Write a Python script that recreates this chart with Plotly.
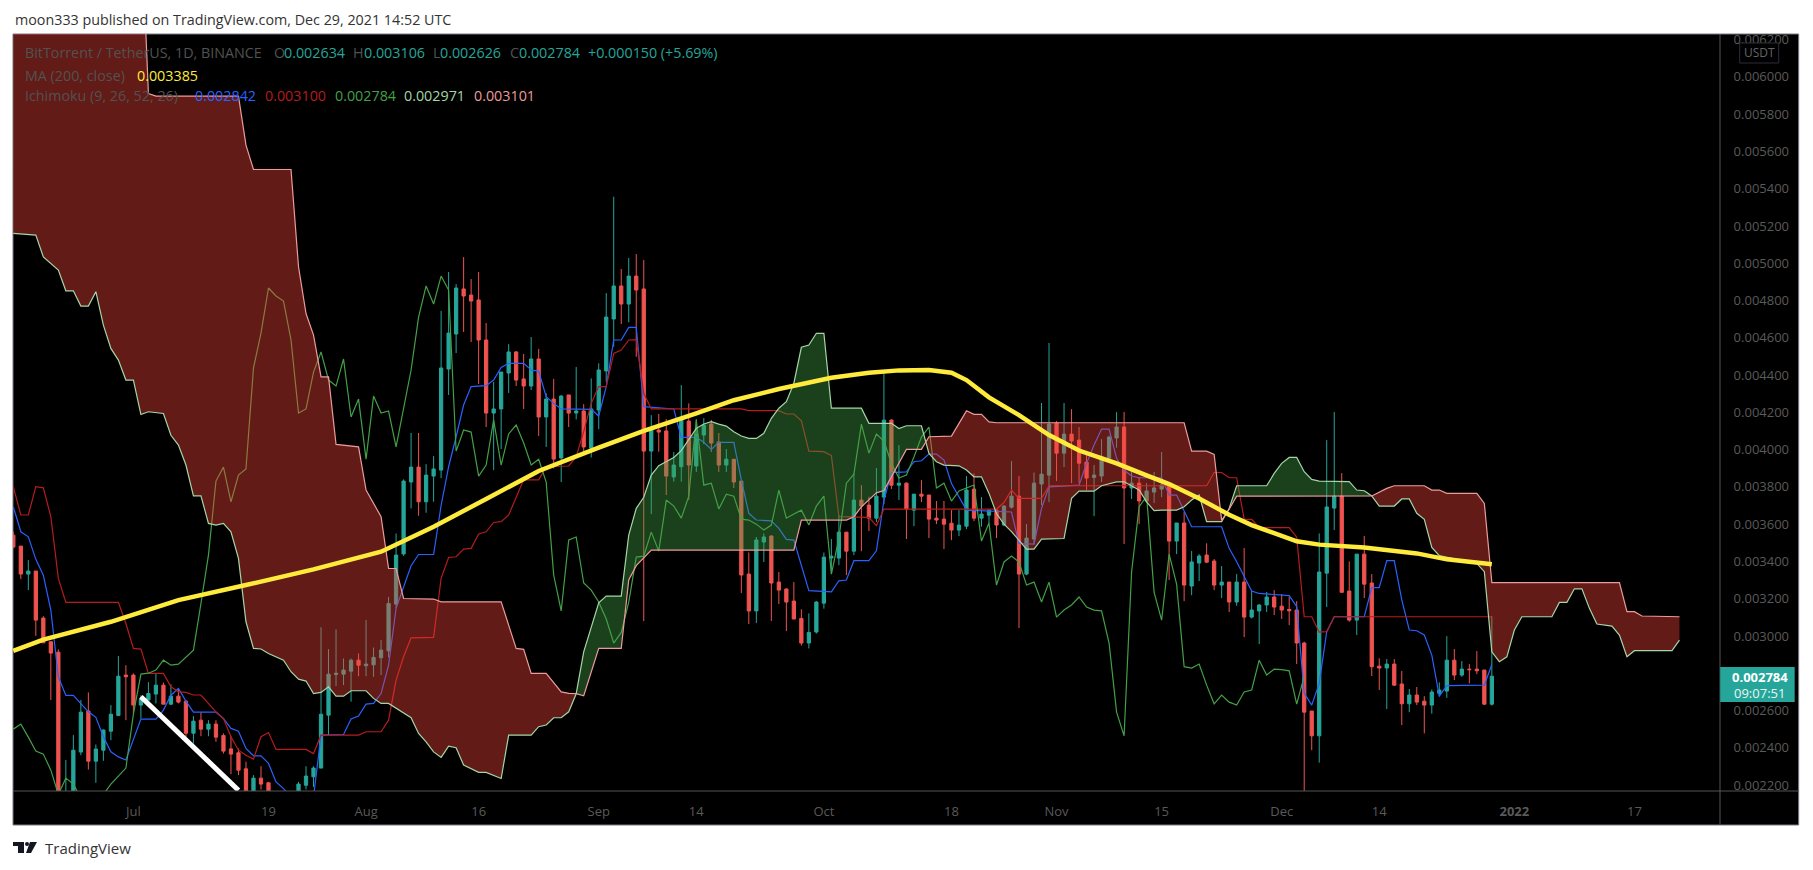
import numpy as np
import pandas as pd
import plotly.graph_objects as go

# All prices are in micro-USDT (0.002784 -> 2784); one row per day from 15 Jun 2021
START = "2021-06-15"
open_ = [3541,3482,3332,3348,3096,2969,2913,2050,2110,2377,2597,2328,2387,2489,2573,2790,2790,2629,2656,2688,2736,2634,2677,2650,2478,2548,2500,2527,2466,2394,2373,2287,2150,2237,2212,2130,2110,2120,2150,2199,2244,2291,2575,2793,2795,2811,2870,2840,2845,2883,2920,3171,3440,3826,3906,3720,3858,3890,4432,4620,4862,4829,4803,4588,4196,4218,4411,4524,4379,4341,4486,4175,4271,3955,4293,4196,4207,4007,4212,4422,4701,4878,4781,4931,4862,3992,4105,4100,3853,3908,4153,3912,4078,4137,4041,3917,3948,3831,3332,3134,3504,3536,3289,3252,3187,3094,2962,3021,3176,3418,3418,3557,3455,3729,3702,3632,3745,4158,3809,3820,3675,3761,3756,3632,3627,3605,3568,3589,3788,3632,3648,3675,3595,3691,3750,3332,3520,3815,3863,4142,3981,4083,4051,3933,3851,3858,3954,4062,4121,3794,3820,3724,3772,3788,3810,3509,3606,3268,3391,3434,3402,3273,3289,3182,3289,3101,3134,3166,3209,3160,3142,3139,2962,2597,2464,3337,3686,3751,3241,3085,3439,3284,2838,2828,2849,2742,2636,2683,2650,2629,2692,2704,2870,2790,2822,2822,2817,2634]
high_ = [3560,3482,3407,3348,3106,2969,2928,2334,2468,2656,2697,2418,2498,2629,2892,2843,2799,2682,2752,2799,2750,2741,2718,2656,2570,2591,2548,2548,2477,2462,2396,2325,2253,2301,2217,2160,2155,2160,2217,2301,2301,3047,2929,3035,2879,2879,2906,3085,2938,2978,3210,3550,3840,4089,4089,3922,3965,4744,4953,4888,5033,4915,4953,4679,4363,4416,4566,4529,4513,4604,4540,4302,4379,4293,4293,4443,4244,4382,4463,4840,5357,4969,5028,5049,5017,4185,4191,4164,3987,4346,4248,4164,4169,4159,4089,4003,3948,3837,3448,3531,3550,3541,3343,3255,3289,3143,3121,3187,3448,3520,3648,3557,3872,3809,3747,3901,4427,4164,4024,3824,3761,3836,3756,3724,3724,3675,3675,3858,3872,3745,3680,3680,3702,3938,3858,3600,3877,4250,4572,4153,4250,4217,4121,3976,3917,4056,4075,4201,4202,3890,3853,3820,3880,3987,3810,3606,3665,3456,3439,3497,3413,3375,3289,3332,3472,3246,3171,3236,3246,3225,3210,3187,2969,2597,3550,4051,4202,3874,3400,3439,3536,3332,2880,2876,2876,2812,2715,2726,2677,2713,2751,2999,2930,2865,2849,2919,2817,3106]
low_ = [3470,3305,3246,3000,2963,2656,2100,2030,2090,2360,2283,2212,2330,2441,2570,2548,2584,2557,2656,2638,2634,2629,2638,2455,2423,2462,2462,2432,2369,2258,2253,2140,2130,2176,2120,2090,2100,2110,2120,2176,2190,2291,2468,2731,2736,2647,2784,2784,2781,2790,2885,3148,3430,3684,3645,3661,3720,3847,4293,4518,4631,4577,4352,4121,3890,4003,4304,4341,4218,4320,4073,4014,3899,3826,4121,4162,3989,3958,4110,4364,4552,4674,4683,4498,3080,3654,3989,3756,3828,3828,3729,3880,4030,3987,3880,3880,3794,3230,3064,3069,3397,3080,3171,3026,3091,2948,2933,3013,3146,3335,3380,3326,3434,3455,3563,3611,3707,3788,3729,3520,3589,3718,3525,3600,3466,3514,3536,3573,3616,3586,3604,3525,3589,3684,3042,3326,3493,3702,3718,3831,3906,3820,3820,3783,3643,3826,3935,4010,3493,3735,3600,3724,3713,3745,3300,3439,3187,3219,3295,3393,3246,3203,3128,3162,2994,3094,2956,3128,3112,3091,3058,2849,2100,2387,2320,3155,3568,3234,3076,3005,3203,2785,2710,2608,2731,2522,2591,2629,2477,2583,2674,2668,2763,2781,2745,2795,2629,2626]
close_ = [3477,3332,3348,3085,2963,2908,2120,2110,2387,2591,2328,2393,2495,2580,2784,2781,2629,2661,2691,2736,2634,2677,2645,2478,2543,2500,2527,2457,2382,2366,2280,2150,2237,2205,2130,2110,2120,2150,2205,2248,2291,2580,2795,2800,2817,2870,2843,2849,2885,2924,3174,3434,3831,3906,3720,3863,3896,4438,4625,4867,4824,4797,4588,4196,4218,4416,4524,4373,4341,4486,4175,4271,3949,4287,4196,4207,4014,4218,4427,4711,4878,4781,4931,4856,3992,4105,4094,3858,3917,4159,3917,4084,4132,4035,3917,3948,3826,3327,3134,3515,3531,3284,3246,3182,3091,2962,3019,3182,3423,3428,3557,3455,3729,3697,3632,3750,4158,3809,3820,3681,3761,3750,3627,3622,3600,3568,3595,3783,3632,3654,3675,3595,3697,3750,3332,3525,3820,3868,4137,3981,4083,4046,3927,3847,3863,3960,4067,4121,3794,3820,3724,3778,3794,3810,3509,3606,3273,3397,3429,3396,3273,3289,3182,3289,3101,3139,3166,3209,3155,3139,3135,2962,2591,2464,3343,3692,3751,3234,3085,3439,3278,2835,2828,2849,2736,2636,2683,2645,2629,2699,2710,2870,2790,2822,2819,2813,2634,2784]

# Indicator lines: day index since START, and value read at that day
ma_days = [0,4,13,22,31,40,49,56,63,70,78,84,91,96,102,105,109,114,118,122,125,127,130,134,138,142,147,151,154,158,162,165,167,171,174,180,187,191,197]
ma_vals = [2920,2980,3076,3192,3273,3357,3452,3586,3735,3885,4010,4100,4194,4265,4325,4352,4385,4412,4425,4427,4412,4373,4280,4185,4078,3995,3926,3862,3815,3738,3650,3595,3565,3508,3490,3475,3443,3411,3385]

tenkan_days = [0,1,2,3,4,5,6,7,8,9,10,11,12,13,14,15,16,17,19,20,21,22,23,24,27,28,29,30,31,32,33,34,35,36,37,40,41,44,45,46,47,48,49,50,51,52,53,54,56,57,58,59,60,61,63,64,65,66,68,69,70,71,72,73,77,78,79,80,81,82,83,84,88,89,91,92,93,94,96,97,98,99,101,102,103,104,106,109,110,111,112,114,115,116,117,119,120,121,122,123,124,125,126,127,133,134,136,137,138,142,143,144,145,146,147,148,149,150,153,154,155,156,157,161,162,163,164,165,166,170,171,172,173,174,175,176,180,181,182,183,184,185,186,187,188,189,190,191,196,197]
tenkan_vals = [3693,3559,3532,3411,3326,3139,2781,2681,2681,2638,2593,2563,2459,2378,2351,2334,2450,2554,2554,2602,2682,2718,2650,2591,2591,2557,2504,2489,2396,2357,2357,2316,2217,2181,2137,2137,2468,2471,2554,2570,2634,2638,2691,2843,3148,3264,3377,3437,3437,3700,3908,4069,4239,4338,4343,4373,4441,4463,4463,4427,4421,4284,4248,4218,4216,4180,4338,4588,4588,4656,4656,4230,4218,4066,4066,4039,4001,4039,4039,3837,3658,3622,3618,3577,3518,3514,3243,3237,3296,3300,3404,3404,3457,3729,3876,3880,3935,3940,3976,3976,3944,3818,3747,3675,3665,3496,3493,3684,3800,3809,3926,4024,4110,4110,3953,3890,3858,3849,3849,3756,3756,3675,3586,3586,3470,3398,3317,3241,3228,3216,3157,2692,2629,2745,3023,3103,3103,3259,3259,3404,3404,3193,3032,3028,3005,2897,2677,2733,2736,2847]

kijun_days = [0,1,2,3,4,5,6,7,14,15,16,17,18,20,21,22,23,24,25,26,27,28,29,30,31,32,33,34,35,39,40,41,46,47,49,50,51,52,53,56,57,58,59,60,61,62,63,64,65,66,67,68,70,71,74,75,76,77,78,79,80,81,82,83,84,85,97,98,102,103,104,105,106,108,109,110,114,115,116,131,132,133,134,137,138,159,160,161,162,163,164,165,166,170,171,172,173,174,175,176,197]
kijun_vals = [3801,3649,3649,3801,3795,3640,3309,3180,3180,3067,2933,2929,2799,2799,2727,2700,2697,2683,2683,2638,2593,2557,2459,2387,2360,2339,2459,2482,2391,2391,2369,2468,2468,2486,2486,2548,2763,2888,2990,2992,3309,3421,3425,3466,3470,3547,3559,3609,3613,3649,3745,3838,3838,3908,3912,3962,4096,4248,4338,4338,4516,4534,4588,4590,4302,4218,4218,4209,4209,4191,4191,4155,3992,3989,3968,3640,3636,3592,3681,3681,3716,3783,3738,3738,3806,3806,3877,3877,3849,3849,3625,3625,3582,3581,3530,3103,3103,3020,3023,3103,3103]

span_a_days = [0,3,4,6,7,8,9,10,11,12,13,14,15,16,17,18,20,21,22,23,24,25,26,27,28,29,30,31,32,33,34,36,37,38,39,40,41,42,43,44,45,47,48,49,50,51,53,54,55,56,57,58,59,60,61,62,63,65,66,69,70,71,72,73,74,75,76,77,78,79,81,82,83,84,85,86,88,89,90,91,92,93,94,95,96,97,98,99,100,101,102,103,104,105,106,107,108,109,113,114,117,118,119,121,122,123,124,126,127,128,129,130,131,132,133,134,135,136,137,140,141,142,144,145,147,148,149,150,151,152,153,155,156,157,158,159,161,162,163,167,168,169,170,171,172,173,174,178,179,180,181,182,184,185,186,187,188,189,190,191,195,196,197,198,199,200,201,205,206,207,208,209,210,211,212,213,214,215,216,221,222]
span_a_vals = [5160,5151,5034,4963,4852,4852,4770,4770,4847,4668,4543,4480,4373,4373,4188,4203,4194,4077,4024,3917,3752,3752,3604,3595,3604,3559,3416,3076,2933,2930,2906,2870,2808,2768,2758,2691,2697,2727,2677,2677,2706,2706,2665,2638,2638,2611,2561,2477,2432,2378,2348,2409,2400,2307,2289,2268,2268,2235,2468,2468,2513,2522,2561,2561,2593,2690,2915,3050,3178,3214,3214,3541,3685,3744,3863,3914,3958,3994,4051,4114,4137,4150,4137,4126,4096,4073,4060,4060,4087,4168,4222,4257,4356,4549,4561,4624,4624,4222,4222,4141,4141,4113,4128,4128,3979,3935,3917,3913,3890,3854,3854,3765,3657,3600,3560,3510,3466,3466,3520,3523,3738,3777,3777,3806,3827,3827,3806,3783,3720,3672,3675,3675,3693,3729,3756,3613,3613,3684,3806,3806,3872,3926,3958,3958,3881,3840,3831,3828,3783,3779,3751,3697,3697,3735,3735,3658,3626,3475,3431,3422,3389,3345,2915,2862,2888,3032,3103,3103,3180,3180,3253,3253,3148,3064,3060,3053,3005,2888,2921,2921,2978]

span_b_days = [0,17,18,19,30,31,32,37,38,39,40,41,42,43,46,47,49,50,51,52,56,57,65,67,68,69,71,73,74,75,76,78,81,82,83,85,104,105,111,112,113,115,116,117,119,121,122,125,126,127,128,129,130,131,156,157,159,160,161,162,163,181,183,184,188,189,190,191,195,196,197,214,215,216,217,222]
span_b_vals = [6870,6870,5910,5897,5897,5634,5503,5503,4981,4730,4614,4390,4390,4028,4015,3783,3640,3362,3362,3201,3198,3183,3183,2933,2928,2799,2799,2700,2692,2690,2679,2933,2933,3300,3377,3461,3461,3622,3622,3640,3693,3768,3780,3854,4001,4001,4069,4072,4140,4208,4189,4189,4149,4144,4144,3992,3992,3974,3620,3680,3750,3751,3792,3806,3806,3783,3783,3765,3765,3711,3286,3286,3130,3130,3107,3103]

CHIKOU_SHIFT = 25
trend_days = [17, 30]
trend_vals = [2674, 2172]
cloud_edges = [0, 75, 121.6, 161.9, 181, 222]
cloud_kinds = ["bear", "bull", "bear", "bull", "bear"]

price_ticks = [2200,2400,2600,3000,3200,3400,3600,3800,4000,4200,4400,4600,4800,5000,5200,5400,5600,5800,6000,6200]
x_ticks = ["2021-07-01","2021-07-19","2021-08-01","2021-08-16","2021-09-01","2021-09-14","2021-10-01","2021-10-18","2021-11-01","2021-11-15","2021-12-01","2021-12-14","2022-01-01","2022-01-17"]
x_tick_text = ["Jul","19","Aug","16","Sep","14","Oct","18","Nov","15","Dec","14","<b>2022</b>","17"]

UP, DOWN = "#26A69A", "#EF5350"
BLUE, DKRED, GREEN, PALEG, PALER = "#2962FF", "#B71C1C", "#43A047", "#A5D6A7", "#EF9A9A"
YELLOW = "#FFEB3B"
FILL = {"bear": "rgba(244,67,54,0.4)", "bull": "rgba(67,160,71,0.4)"}
FONT = "Open Sans"

t0 = pd.Timestamp(START)
def dates(days):
    return [t0 + pd.Timedelta(days=float(d)) for d in days]
def px_(vals):
    return np.asarray(vals, dtype=float) / 1e6

fig = go.Figure()
def line(days, vals, color, width, name):
    fig.add_trace(go.Scatter(x=dates(days), y=px_(vals), mode="lines", name=name,
                             line=dict(color=color, width=width), hoverinfo="skip"))

line(tenkan_days, tenkan_vals, BLUE, 1.2, "Conversion")
line(kijun_days, kijun_vals, DKRED, 1.2, "Base")
line(list(range(len(close_) - CHIKOU_SHIFT)), close_[CHIKOU_SHIFT:], GREEN, 1.2, "Lagging")

a_d, a_v, b_d, b_v = map(np.asarray, (span_a_days, span_a_vals, span_b_days, span_b_vals))
for lo, hi, kind in zip(cloud_edges[:-1], cloud_edges[1:], cloud_kinds):
    da = np.r_[lo, a_d[(a_d > lo) & (a_d < hi)], hi]
    db = np.r_[lo, b_d[(b_d > lo) & (b_d < hi)], hi]
    xs = np.r_[da, db[::-1]]
    ys = np.r_[np.interp(da, a_d, a_v), np.interp(db[::-1], b_d, b_v)]
    fig.add_trace(go.Scatter(x=dates(xs), y=px_(ys), mode="lines", fill="toself",
                             fillcolor=FILL[kind], line=dict(width=0), hoverinfo="skip"))
line(span_a_days, span_a_vals, PALEG, 1.2, "Span A")
line(span_b_days, span_b_vals, PALER, 1.2, "Span B")
line(ma_days, ma_vals, YELLOW, 4.5, "MA 200")

fig.add_trace(go.Candlestick(
    x=dates(range(len(close_))), open=px_(open_), high=px_(high_), low=px_(low_), close=px_(close_),
    whiskerwidth=0,
    increasing=dict(line=dict(color=UP, width=1), fillcolor=UP),
    decreasing=dict(line=dict(color=DOWN, width=1), fillcolor=DOWN),
    hoverinfo="skip"))
line(trend_days, trend_vals, "#FFFFFF", 5, "Trend")

# pixel helpers for the furniture around the plot
L, R, T, B = 13, 1720.3, 34, 791
def ax(p): return (p - L) / (R - L)
def ay(p): return 1 - (p - T) / (B - T)
def note(x, y, text, color, size=14.3, anchor="left", **kw):
    fig.add_annotation(xref="paper", yref="paper", x=ax(x), y=ay(y), text=text, showarrow=False,
                       xanchor=anchor, yanchor="middle", align="left",
                       font=dict(color=color, size=size, family=FONT), **kw)
def rect(x0, y0, x1, y1, fill=None, line_color=None, layer="above"):
    fig.add_shape(type="rect", xref="paper", yref="paper", x0=ax(x0), x1=ax(x1), y0=ay(y0), y1=ay(y1),
                  fillcolor=fill, line=dict(color=line_color, width=1) if line_color else dict(width=0), layer=layer)
def path(points, fill):
    d = "M " + " L ".join(f"{ax(x)},{ay(y)}" for x, y in points) + " Z"
    fig.add_shape(type="path", xref="paper", yref="paper", path=d, fillcolor=fill, line=dict(width=0), layer="above")

rect(13, 34, 1799, 825, fill="#000000", line_color="#787B86", layer="below")
fig.add_shape(type="line", xref="paper", yref="paper", x0=ax(13), x1=ax(1799), y0=ay(791), y1=ay(791), line=dict(color="#555555", width=1))
fig.add_shape(type="line", xref="paper", yref="paper", x0=ax(1720.3), x1=ax(1720.3), y0=ay(34), y1=ay(825), line=dict(color="#555555", width=1))

# USDT badge and last-price tag
rect(1740, 43, 1779, 63, fill="#000000", line_color="#2A2E39")
note(1759.5, 53, "USDT", "#666666", size=12, anchor="center")
rect(1720.5, 667, 1795, 702, fill=UP)
note(1760, 677, "<b>0.002784</b>", "#FFFFFF", size=13, anchor="center")
note(1760, 693, "09:07:51", "#E8F5F3", size=13, anchor="center")

# header, legend lines, footer
note(13, 19, "moon333 published on TradingView.com, Dec 29, 2021 14:52 UTC", "#333333")
DIM = "#525252"
for x, text, color in [(23, "BitTorrent / TetherUS, 1D, BINANCE", DIM), (272, "O", DIM), (282, "0.002634", UP),
                       (351, "H", DIM), (361.6, "0.003106", UP), (431, "L", DIM), (438, "0.002626", UP),
                       (508, "C", DIM), (517, "0.002784", UP), (586.6, "+0.000150 (+5.69%)", UP)]:
    note(x, 53, text, color)
note(23, 75, "MA (200, close)", DIM)
note(135, 75, "0.003385", YELLOW)
note(23, 96, "Ichimoku (9, 26, 52, 26)", DIM)
for x, text, color in [(193, "0.002842", BLUE), (263, "0.003100", DKRED), (332.6, "0.002784", GREEN),
                       (402, "0.002971", PALEG), (472, "0.003101", PALER)]:
    note(x, 96, text, color)
note(43, 848, "TradingView", "#333333", size=15)
path([(13, 842), (24, 842), (24, 853), (18, 853), (18, 846), (13, 846)], "#131722")
path([(30, 842), (37, 842), (31, 853), (26, 853)], "#131722")
fig.add_shape(type="circle", xref="paper", yref="paper", x0=ax(25), x1=ax(29), y0=ay(842), y1=ay(846),
              fillcolor="#131722", line=dict(width=0), layer="above")

fig.update_layout(
    width=1813, height=870, autosize=False, showlegend=False,
    margin=dict(l=L, r=1813 - R, t=T, b=870 - B),
    paper_bgcolor="#FFFFFF", plot_bgcolor="#000000", boxgap=0.38,
    xaxis=dict(type="date", range=[t0 - pd.Timedelta(hours=1), t0 + pd.Timedelta(days=227.4)],
               rangeslider=dict(visible=False), showgrid=False, zeroline=False, showline=False,
               tickmode="array", tickvals=x_ticks, ticktext=x_tick_text, ticks="outside", ticklen=8,
               tickcolor="rgba(0,0,0,0)", tickfont=dict(color="#5A5A5A", size=13, family=FONT)),
    yaxis=dict(side="right", range=[0.002168, 0.006230], showgrid=False, zeroline=False, showline=False,
               tickmode="array", tickvals=list(px_(price_ticks)), tickformat=".6f", ticks="outside", ticklen=10,
               tickcolor="rgba(0,0,0,0)", tickfont=dict(color="#5A5A5A", size=13, family=FONT)),
)
fig.write_html("out.html", config=dict(displayModeBar=False),
               post_script="document.body.style.margin='0';document.documentElement.style.overflow='hidden';")
